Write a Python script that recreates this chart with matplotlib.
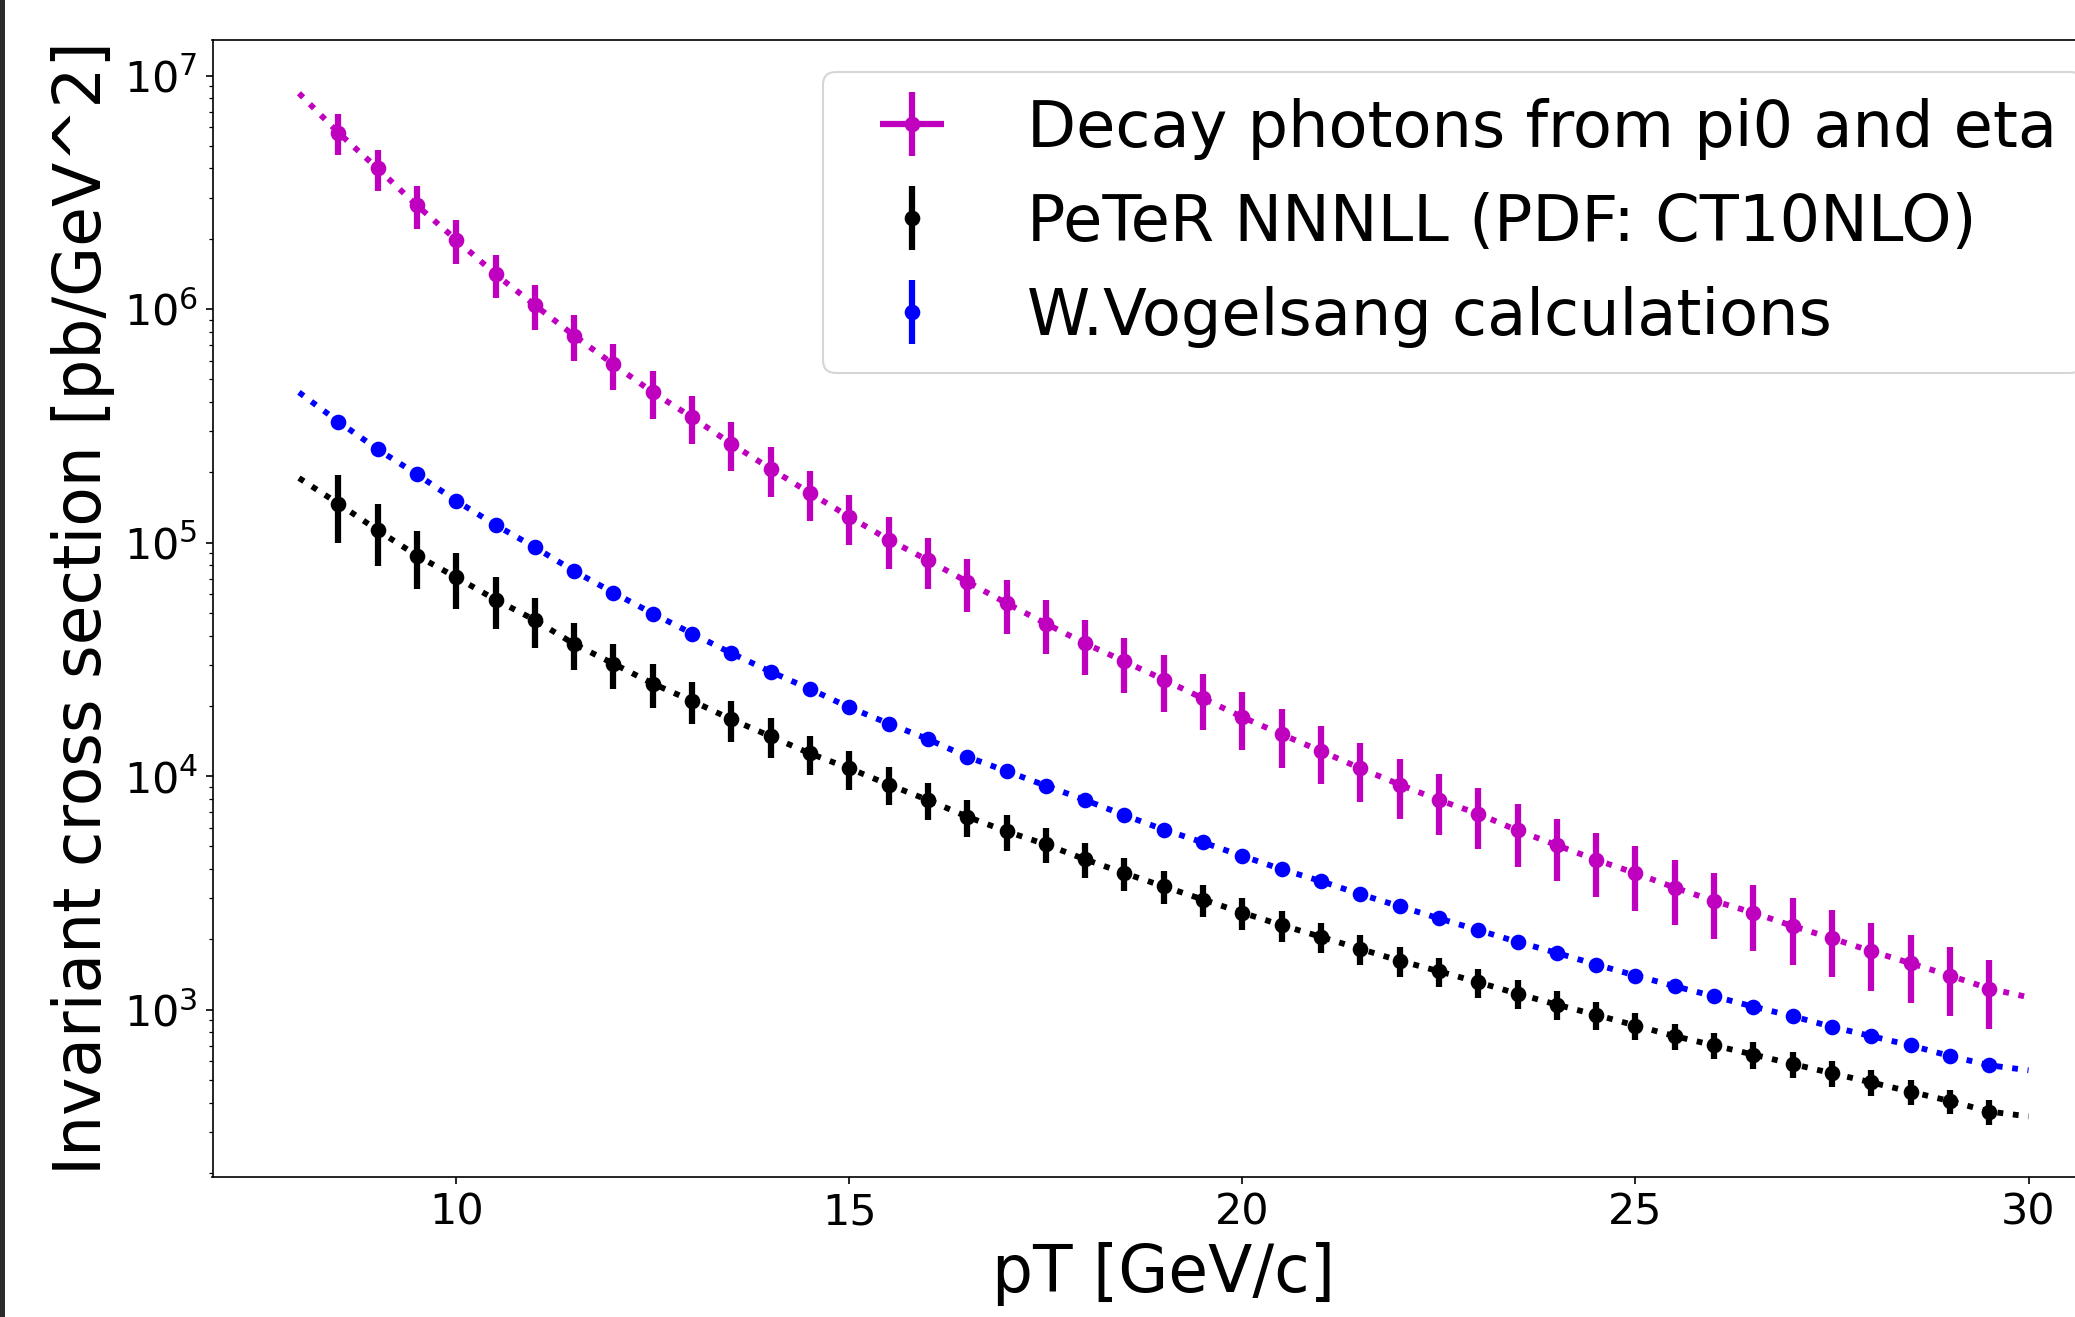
import matplotlib
matplotlib.use("Agg")
import matplotlib.pyplot as plt
from matplotlib.patches import Rectangle
import numpy as np

# ---- data ----
pt = [8.5, 9.0, 9.5, 10.0, 10.5, 11.0, 11.5, 12.0, 12.5, 13.0,
      13.5, 14.0, 14.5, 15.0, 15.5, 16.0, 16.5, 17.0, 17.5, 18.0,
      18.5, 19.0, 19.5, 20.0, 20.5, 21.0, 21.5, 22.0, 22.5, 23.0,
      23.5, 24.0, 24.5, 25.0, 25.5, 26.0, 26.5, 27.0, 27.5, 28.0,
      28.5, 29.0, 29.5]

decay = [5.7e6, 4.0e6, 2.78e6, 1.98e6, 1.41e6, 1.04e6, 7.7e5, 5.8e5, 4.4e5, 3.44e5,
         2.65e5, 2.07e5, 1.63e5, 1.29e5, 1.03e5, 8.4e4, 6.8e4, 5.5e4, 4.5e4, 3.7e4,
         3.1e4, 2.59e4, 2.15e4, 1.79e4, 1.51e4, 1.28e4, 1.08e4, 9.2e3, 7.9e3, 6.9e3,
         5.85e3, 5.06e3, 4.38e3, 3.84e3, 3.33e3, 2.92e3, 2.6e3, 2.28e3, 2.02e3, 1.78e3,
         1.58e3, 1.40e3, 1.23e3]
decay_relerr = [0.20, 0.20, 0.205, 0.21, 0.21, 0.215, 0.22, 0.225, 0.23, 0.23,
                0.235, 0.24, 0.24, 0.245, 0.25, 0.25, 0.255, 0.26, 0.26, 0.265,
                0.265, 0.27, 0.27, 0.275, 0.28, 0.28, 0.285, 0.29, 0.29, 0.295,
                0.30, 0.30, 0.305, 0.31, 0.31, 0.315, 0.315, 0.32, 0.32, 0.325,
                0.325, 0.33, 0.33]

peter = [1.47e5, 1.13e5, 8.8e4, 7.1e4, 5.7e4, 4.66e4, 3.68e4, 3.03e4, 2.49e4, 2.1e4,
         1.75e4, 1.48e4, 1.25e4, 1.08e4, 9.2e3, 7.9e3, 6.7e3, 5.8e3, 5.1e3, 4.4e3,
         3.84e3, 3.37e3, 2.96e3, 2.6e3, 2.3e3, 2.05e3, 1.82e3, 1.62e3, 1.46e3, 1.31e3,
         1.17e3, 1.05e3, 950, 855, 770, 703, 642, 585, 534, 488,
         445, 406, 366]
peter_relerr = [0.32, 0.30, 0.28, 0.265, 0.25, 0.24, 0.23, 0.22, 0.21, 0.205,
                0.20, 0.195, 0.19, 0.19, 0.185, 0.18, 0.18, 0.175, 0.17, 0.17,
                0.165, 0.16, 0.16, 0.155, 0.155, 0.15, 0.15, 0.145, 0.145, 0.14,
                0.14, 0.14, 0.135, 0.135, 0.13, 0.13, 0.13, 0.125, 0.125, 0.125,
                0.12, 0.12, 0.12]

vogel = [3.3e5, 2.51e5, 1.96e5, 1.51e5, 1.19e5, 9.55e4, 7.55e4, 6.1e4, 4.97e4, 4.08e4,
         3.36e4, 2.8e4, 2.36e4, 1.97e4, 1.68e4, 1.44e4, 1.21e4, 1.05e4, 9.1e3, 7.9e3,
         6.8e3, 5.9e3, 5.2e3, 4.55e3, 3.99e3, 3.55e3, 3.12e3, 2.77e3, 2.46e3, 2.19e3,
         1.95e3, 1.75e3, 1.56e3, 1.40e3, 1.26e3, 1.14e3, 1.03e3, 937, 844, 770,
         703, 633, 578]
vogel_relerr = [0.02] * len(pt)

# curve end points (pT = 8 and pT = 30)
curve_ends_x = [8.0, 30.0]
decay_ends = [8.4e6, 1.13e3]
peter_ends = [1.89e5, 349]
vogel_ends = [4.4e5, 550]

labels = ["Decay photons from pi0 and eta",
          "PeTeR NNNLL (PDF: CT10NLO)",
          "W.Vogelsang calculations"]

# ---- figure ----
W, H, DPI = 2075, 1317, 150
fig = plt.figure(figsize=(W / DPI, H / DPI), dpi=DPI)
fig.patch.set_facecolor("white")
ax = fig.add_axes([212.5 / W, (H - 1177) / H, (2115 - 212.5) / W, (1177 - 40) / H])


def curve(vals, ends):
    x = [curve_ends_x[0]] + list(pt) + [curve_ends_x[1]]
    y = [ends[0]] + list(vals) + [ends[1]]
    return x, y


for vals, ends, col in [(decay, decay_ends, "m"), (vogel, vogel_ends, "b"), (peter, peter_ends, "k")]:
    cx, cy = curve(vals, ends)
    ax.plot(cx, cy, linestyle=":", color=col, linewidth=2.8)

d = np.array(decay)
p = np.array(peter)
v = np.array(vogel)
ax.errorbar(pt, d, yerr=d * np.array(decay_relerr), xerr=np.zeros(len(pt)),
            fmt="o", color="m", elinewidth=3, ms=6.5, label=labels[0])
ax.errorbar(pt, p, yerr=p * np.array(peter_relerr),
            fmt="o", color="k", elinewidth=3, ms=6.5, label=labels[1])
ax.errorbar(pt, v, yerr=v * np.array(vogel_relerr),
            fmt="o", color="b", elinewidth=3, ms=6.5, label=labels[2])

ax.set_yscale("log")
ax.set_xlim(6.9, 31.1)
ax.set_ylim(192, 1.42e7)
ax.set_xticks([10, 15, 20, 25, 30])
ax.tick_params(axis="both", which="major", labelsize=20.6)
ax.set_xlabel("pT [GeV/c]", fontsize=31)
ax.set_ylabel("Invariant cross section [pb/GeV^2]", fontsize=31)
ax.legend(loc="upper right", fontsize=30.7)

# dark border strip at the left edge of the screenshot
fig.patches.append(Rectangle((0, 0), 5 / W, 1, transform=fig.transFigure,
                             facecolor="#2b2b2b", edgecolor="none", zorder=10))

fig.savefig("out.png", dpi=DPI)
